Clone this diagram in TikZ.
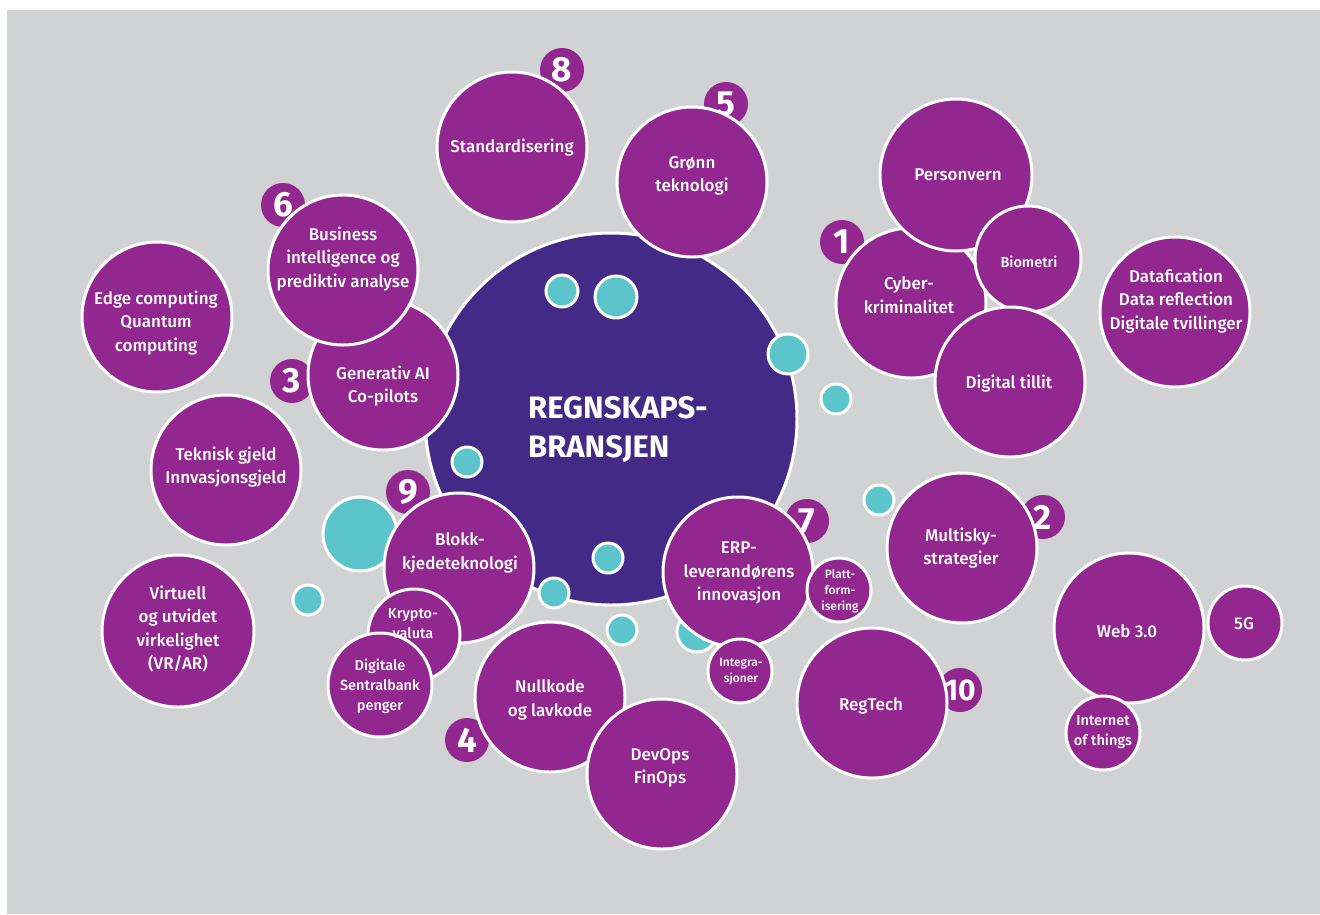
\documentclass[tikz,border=0pt]{standalone}
\usepackage{fontspec}
\setmainfont{Fira Sans}[UprightFont={* Medium}, BoldFont={* Bold}]
\definecolor{bgray}{HTML}{D1D2D4}
\definecolor{bpurple}{HTML}{92278F}
\definecolor{bdark}{HTML}{432A87}
\definecolor{bteal}{HTML}{5BC5CB}
\tikzset{
  bub/.style={circle, fill=bpurple, draw=white, line width=3pt, minimum size=#1, inner sep=0pt},
  core/.style={circle, fill=bdark, draw=white, line width=3pt, minimum size=#1, inner sep=0pt},
  dot/.style={circle, fill=bteal, draw=white, line width=3pt, minimum size=#1, inner sep=0pt},
  badge/.style={circle, fill=bpurple, minimum size=44pt, inner sep=0pt, text=white, font=\bfseries\fontsize{35}{35}\selectfont},
  lbl/.style={text=white, align=center, inner sep=0pt, font=\fontsize{17}{23.5}\selectfont},
  slbl/.style={text=white, align=center, inner sep=0pt, font=\fontsize{14.5}{20}\selectfont},
  xlbl/.style={text=white, align=center, inner sep=0pt, font=\fontsize{12}{16}\selectfont},
  title/.style={text=white, align=left, inner sep=0pt, font=\bfseries\fontsize{31}{39}\selectfont}
}
\begin{document}
\begin{tikzpicture}[x=1pt,y=-1pt]
\useasboundingbox (0,0) rectangle (1320,914);
\fill[bgray] (7,10) rectangle (1320,914);
% badges (behind)
\node[badge] (b8) at (562,70) {8};
\node[badge] (b5) at (726,104) {5};
\node[badge] (b6) at (283,205) {6};
\node[badge] (b3) at (292,381) {3};
\node[badge] (b9) at (408,492) {9};
\node[badge] (b4) at (467,740) {4};
\node[badge] (b7) at (807,521) {7};
\node[badge] (b2) at (1043,517) {2};
\node[badge, font=\bfseries\fontsize{30}{30}\selectfont] (b10) at (960,690) {10};
\node[badge] (b1) at (842,242) {1};
% teal behind
\node[dot=74pt] (t1) at (360,534) {};
\node[dot=40pt] (t2) at (697,632) {};
% core
\node[core=372pt] (core) at (611,419) {};
% bubbles
\node[bub=150pt] (std) at (512,147) {};
\node[bub=150pt] (gron) at (692,182) {};
\node[bub=150pt] (gen) at (383,375) {};
\node[bub=150pt] (bi) at (343,270) {};
\node[bub=150pt] (edge) at (157,317) {};
\node[bub=150pt] (tek) at (226,470) {};
\node[bub=152pt] (vr) at (178,631) {};
\node[bub=150pt] (blokk) at (459,568) {};
\node[bub=92pt] (krypto) at (414,635) {};
\node[bub=104pt] (cbdc) at (380,685) {};
\node[bub=150pt] (null) at (550,697) {};
\node[bub=150pt] (dev) at (662,774) {};
\node[bub=150pt] (erp) at (738,572) {};
\node[bub=64pt] (platt) at (839,590) {};
\node[bub=64pt] (integ) at (740,671) {};
\node[bub=150pt] (multi) at (962,548) {};
\node[bub=150pt] (reg) at (872,703) {};
\node[bub=150pt] (cyber) at (911,303) {};
\node[bub=152pt] (pers) at (956,175) {};
\node[bub=106pt] (bio) at (1028,259) {};
\node[bub=150pt] (tillit) at (1010,382) {};
\node[bub=150pt] (data) at (1175,312) {};
\node[bub=150pt] (web) at (1129,628) {};
\node[bub=74pt] (fiveg) at (1245,623) {};
\node[bub=74pt] (iot) at (1103,733) {};
% teal dots on top
\node[dot=32pt] (t3) at (562,291) {};
\node[dot=42pt] (t4) at (616,297) {};
\node[dot=40pt] (t5) at (788,354) {};
\node[dot=30pt] (t6) at (836,399) {};
\node[dot=30pt] (t7) at (467,462) {};
\node[dot=30pt] (t8) at (608,558) {};
\node[dot=30pt] (t9) at (554,593) {};
\node[dot=30pt] (t10) at (622,630) {};
\node[dot=30pt] (t11) at (308,600) {};
\node[dot=30pt] (t12) at (879,500) {};
% labels
\node[title, anchor=west] (ttl) at (528,430) {REGNSKAPS-\\BRANSJEN};
\node[lbl] (lstd) at (512,148) {Standardisering};
\node[lbl] (lgron) at (692,176) {Grønn\\teknologi};
\node[lbl] (lbi) at (343,259) {Business\\intelligence og\\prediktiv analyse};
\node[lbl] (lgen) at (383,386) {Generativ AI\\Co-pilots};
\node[lbl] (ledge) at (156,323) {Edge computing\\Quantum\\computing};
\node[lbl] (ltek) at (226,467) {Teknisk gjeld\\Innvasjonsgjeld};
\node[lbl] (lvr) at (178,629) {Virtuell\\og utvidet\\virkelighet\\(VR/AR)};
\node[lbl] (lblokk) at (460,553) {Blokk-\\kjedeteknologi};
\node[slbl] (lkrypto) at (413,624) {Krypto-\\valuta};
\node[slbl] (lcbdc) at (380,686) {Digitale\\Sentralbank\\penger};
\node[lbl] (lnull) at (550,700) {Nullkode\\og lavkode};
\node[lbl] (ldev) at (660,768) {DevOps\\FinOps};
\node[lbl] (lerp) at (739,573) {ERP-\\leverandørens\\innovasjon};
\node[xlbl] (lplatt) at (840,591) {Platt-\\form-\\isering};
\node[xlbl] (linteg) at (741,672) {Integra-\\sjoner};
\node[lbl] (lmulti) at (961,548) {Multisky-\\strategier};
\node[lbl] (lreg) at (871,706) {RegTech};
\node[lbl] (lpers) at (958,175) {Personvern};
\node[lbl] (lcyber) at (909,295) {Cyber-\\kriminalitet};
\node[slbl] (lbio) at (1029,262) {Biometri};
\node[lbl] (ltillit) at (1009,384) {Digital tillit};
\node[lbl] (ldata) at (1176,301) {Datafication\\Data reflection\\Digitale tvillinger};
\node[lbl] (lweb) at (1127,631) {Web 3.0};
\node[lbl] (lfiveg) at (1244,624) {5G};
\node[slbl] (liot) at (1103,732) {Internet\\of things};
\end{tikzpicture}
\end{document}
